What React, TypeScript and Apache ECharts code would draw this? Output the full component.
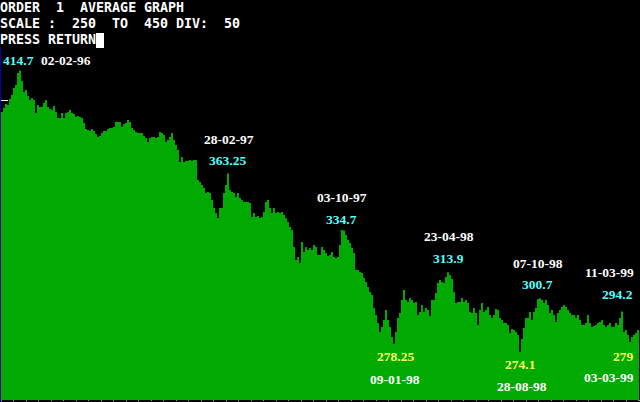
import React, { useEffect, useRef } from "react";
import * as echarts from "echarts";

// ---- data (one bar per period) ----
const values1996 = [
  394, 396, 398, 397.5, 400.5, 402.5, 406, 407.5, 413.5, 414.7,
  409.5, 404, 405, 402, 400, 401, 400, 393.5, 397.5, 396.5,
  396.5, 398.5, 400, 396.5, 395.5, 395, 397, 394, 391, 391,
  393.5, 391, 393.5, 394, 395, 393.5, 393, 391.5, 392, 391.5,
  391, 388.5, 385.5, 385, 384.5, 385.5, 384.5, 383, 381.5, 382,
  383.5, 384.5, 384.5, 385.5, 386, 386, 386.5, 389, 389, 389,
  386.5, 388, 388.5, 390, 389, 386, 385, 384, 383.5, 383.5,
  383.5, 382, 381, 379, 381, 381.5, 381.5, 381, 381.5, 384,
  383.5, 382.5, 379, 380, 381.5, 383.5, 380, 377.5, 375, 369,
  371.5, 369, 369.5, 369.5, 370, 369.5, 370,
];
const values1997 = [
  370, 360, 359, 357.5, 356, 353.5, 354, 353.5, 350, 346,
  343.5, 341, 346, 346, 353.5, 357.5, 363.25, 355, 354, 353.5,
  351.5, 353.5, 351, 350, 349, 349, 349, 348.5, 341.5, 343.5,
  341.5, 342, 341, 341.5, 344, 349, 350, 346, 343.5, 346,
  343.5, 344, 343.5, 344, 342.5, 341, 339, 336.5, 335, 326.5,
  320, 321.5, 318.5, 329, 324, 326.5, 325, 326, 325, 327.5,
  326.5, 322.5, 322.5, 326.5, 325, 323.5, 322, 322.5, 324, 321.5,
  321, 321.5, 327.5, 335, 334.7, 332.5, 330, 328.5, 326, 323.5,
  315, 315, 314, 313.5, 311, 309, 306.5, 304, 302.5, 296,
  292.5, 288.5, 284, 286.5, 290, 295,
];
const values1998 = [
  290, 286.5, 281.5, 278.25, 284, 291, 293.5, 300, 305, 300,
  299, 301, 300, 298.5, 299, 292.5, 294, 297.5, 294, 296,
  295, 292, 300, 300, 303.5, 308.5, 310, 309, 308.5, 311.5,
  313.9, 312.5, 310.5, 304, 298.5, 299, 299, 301, 299, 300,
  298.5, 294, 293.5, 296, 293.5, 287.5, 295, 298.5, 294, 295,
  296.5, 292.5, 291, 292.5, 295.5, 295, 291, 290, 288.5, 288.5,
  287.5, 283.5, 285.5, 285, 284, 282.5, 274.1, 280.5, 286, 291,
  291, 294, 290, 294, 296, 300.5, 300.7, 300, 298.5, 300,
  297.5, 293.5, 295, 292.5, 289, 293.5, 295, 296.5, 297.5, 296.5,
  295, 293.5, 292.5, 292.5, 291, 292.5, 290,
];
const values1999 = [
  287.5, 287.5, 288.5, 292.5, 288.5, 286.5, 287, 287.5, 288.5, 289,
  290, 287.5, 286.5, 287.5, 288.5, 286.5, 286.5, 288.5, 287.5, 291,
  294.2, 284, 285, 282.5, 279, 281.5, 282.5, 283.5, 285,
];
const prices = [...values1996, ...values1997, ...values1998, ...values1999];
const categories = prices.map((_, i) => String(i + 1));

const scaleMin = 250;
const scaleMax = 450;
const scaleDiv = 50;
const tickValues = [300, 350, 400];

const headerLines = [
  "ORDER  1  AVERAGE GRAPH",
  "SCALE :  250  TO  450 DIV:  50",
  "PRESS RETURN",
];

const highValues = ["414.7", "363.25", "334.7", "313.9", "300.7", "294.2"];
const highDates = ["02-02-96", "28-02-97", "03-10-97", "23-04-98", "07-10-98", "11-03-99"];
const lowValues = ["278.25", "274.1", "279"];
const lowDates = ["09-01-98", "28-08-98", "03-03-99"];

// ---- layout (pixel positions of the annotation texts) ----
const highValuePos = [[3, 60], [209, 160], [326, 219.5], [433, 258.5], [522, 284.5], [602, 294]];
const highDatePos = [[41, 60], [204, 139.5], [317, 197.5], [424, 236.5], [513, 263.5], [585, 272.5]];
const lowValuePos = [[377, 356.5], [505, 364], [613, 356.5]];
const lowDatePos = [[370, 379], [497, 386], [584, 377]];

const CYAN = "#55FFFF";
const YELLOW = "#FFFF55";
const WHITE = "#FFFFFF";
const GREEN = "#00AA00";
const BLUE = "#0000AA";
const serifFont = 'bold 13.5px "Liberation Serif", "Times New Roman", serif';
const monoFont = 'bold 13.33px "DejaVu Sans Mono", monospace';

function buildGraphics() {
  const els: any[] = [];
  els.push({
    type: "rect",
    z: 0,
    shape: { x: 0, y: 48, width: 1, height: 354 },
    style: { fill: BLUE },
    silent: true,
  });
  headerLines.forEach((line, li) => {
    const re = /\S+/g;
    let m: RegExpExecArray | null;
    while ((m = re.exec(line)) !== null) {
      els.push({
        type: "text",
        z: 10,
        x: m.index * 8,
        y: 7.7 + li * 15.8,
        style: {
          text: m[0],
          fill: WHITE,
          font: monoFont,
          textAlign: "left",
          textVerticalAlign: "middle",
        },
      });
    }
  });
  // blinking cursor block after PRESS RETURN
  els.push({
    type: "rect",
    z: 10,
    shape: { x: headerLines[2].length * 8, y: 33, width: 8, height: 15 },
    style: { fill: WHITE },
  });
  const addText = (text: string, pos: number[], color: string) => {
    els.push({
      type: "text",
      z: 10,
      x: pos[0],
      y: pos[1],
      style: {
        text,
        fill: color,
        font: serifFont,
        textAlign: "left",
        textVerticalAlign: "middle",
      },
    });
  };
  highValues.forEach((t, i) => addText(t, highValuePos[i], CYAN));
  highDates.forEach((t, i) => addText(t, highDatePos[i], WHITE));
  lowValues.forEach((t, i) => addText(t, lowValuePos[i], YELLOW));
  lowDates.forEach((t, i) => addText(t, lowDatePos[i], WHITE));
  return els;
}

export default function App() {
  const ref = useRef<HTMLDivElement>(null);
  useEffect(() => {
    if (!ref.current) return;
    const chart = echarts.init(ref.current, undefined, { renderer: "svg" });
    chart.setOption({
      animation: false,
      backgroundColor: "#000000",
      grid: { left: 1, top: 0, width: 638, height: 400, containLabel: false },
      xAxis: [
        {
          type: "category",
          data: categories,
          boundaryGap: true,
          axisLine: { show: false },
          axisTick: { show: false },
          axisLabel: { show: false },
          splitLine: { show: false },
        },
        {
          type: "value",
          min: 0,
          max: 51.04,
          interval: 1,
          position: "bottom",
          axisLine: { show: false },
          axisTick: { show: true, length: 1, lineStyle: { color: "#9a9a9a", width: 1 } },
          axisLabel: { show: false },
          splitLine: { show: false },
        },
      ],
      yAxis: {
        type: "value",
        min: scaleMin,
        max: scaleMax,
        interval: scaleDiv,
        offset: 1,
        axisLine: { show: false },
        axisTick: {
          show: true,
          inside: true,
          length: 7,
          customValues: tickValues,
          lineStyle: { color: WHITE, width: 1 },
        },
        axisLabel: { show: false },
        splitLine: { show: false },
      },
      series: [
        {
          type: "bar",
          data: prices,
          xAxisIndex: 0,
          barWidth: 2,
          barCategoryGap: "0%",
          itemStyle: { color: GREEN },
          silent: true,
        },
      ],
      graphic: buildGraphics(),
    });
    return () => chart.dispose();
  }, []);
  return (
    <div
      ref={ref}
      style={{ position: "absolute", left: 0, top: 0, width: 640, height: 402, background: "#000" }}
    />
  );
}
